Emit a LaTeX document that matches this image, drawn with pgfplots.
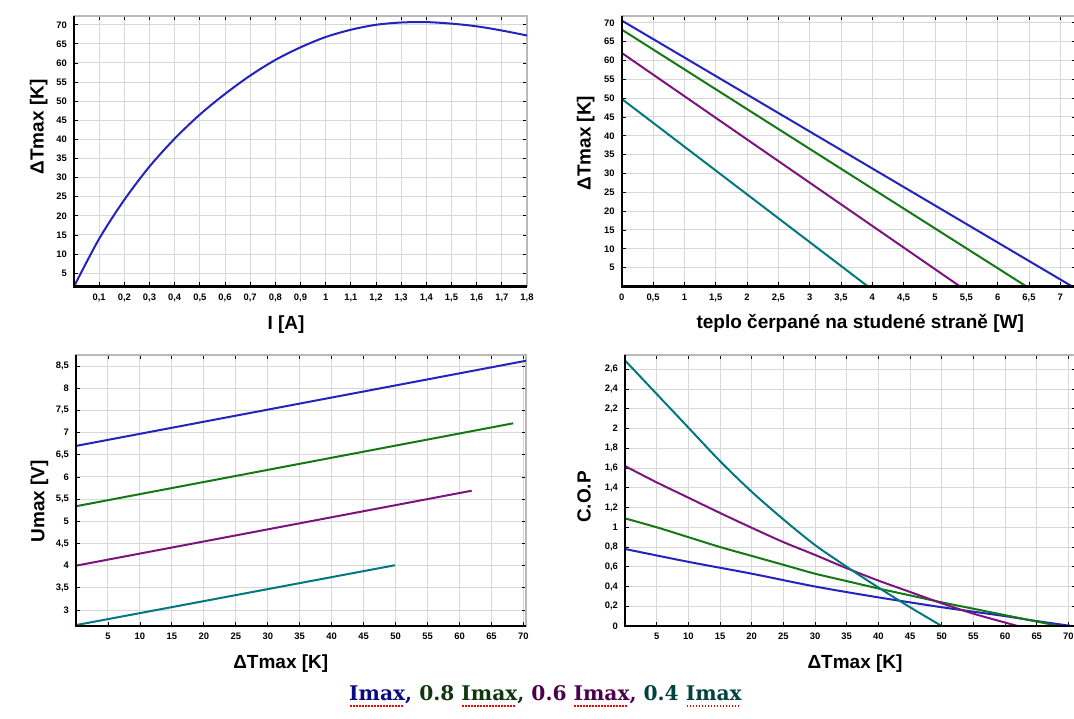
\documentclass[border=0pt]{standalone}
\usepackage{pgfplots}
\pgfplotsset{compat=1.18}
\usepackage{fontspec}
\setmainfont{Liberation Sans}
\newfontfamily\legfont{DejaVu Serif}

\definecolor{cA}{RGB}{35,35,190}
\definecolor{cB}{RGB}{20,120,20}
\definecolor{cC}{RGB}{125,20,125}
\definecolor{cD}{RGB}{0,120,125}
\definecolor{gridc}{RGB}{215,215,215}
\definecolor{legA}{RGB}{10,10,130}
\definecolor{legB}{RGB}{15,55,15}
\definecolor{legC}{RGB}{75,0,75}
\definecolor{legD}{RGB}{0,65,65}

\pgfplotsset{
  panel/.style={
    scale only axis, anchor=south west,
    grid=major, major grid style={gridc, line width=0.5pt},
    axis line style={gray!55, line width=0.7pt},
    tick style={black, line width=0.4pt}, major tick length=2pt,
    tick label style={font=\fontsize{4.7}{5}\selectfont\bfseries},
    /pgf/number format/use comma,
    /pgf/number format/fixed,
    /pgf/number format/precision=2,
    /pgf/number format/assume math mode=true,
    label style={font=\fontsize{9.5}{11}\selectfont\bfseries},
    clip mode=individual,
    every axis plot/.append style={line width=1pt, no marks},
    extra description/.code={
      \draw[black, line width=1.1pt] (rel axis cs:0,1) -- (rel axis cs:0,0) -- (rel axis cs:1,0);
    },
  },
}

% word with a red dotted underline (spell-check mark in the original)
\newcommand\im[2]{\setbox0\hbox{\textcolor{#1}{#2}}%
  \rlap{\color{red}\raisebox{-3pt}{\hbox to \wd0{\leaders\hbox to 1.5pt{\hss\rule{0.8pt}{0.8pt}\hss}\hfill}}}\box0}

\begin{document}
\begin{tikzpicture}
\useasboundingbox (0,0) rectangle (537pt,359pt);

% top left: dT max vs current
\begin{axis}[panel, at={(37pt,215.75pt)}, width=226.5pt, height=135.25pt,
  xmin=0, xmax=1.8, ymin=1.5, ymax=72.3,
  xtick={0.1,0.2,0.3,0.4,0.5,0.6,0.7,0.8,0.9,1,1.1,1.2,1.3,1.4,1.5,1.6,1.7,1.8},
  ytick={5,10,...,70},
  xlabel={I [A]}, ylabel={ΔTmax [K]},
  xlabel style={at={(axis description cs:0.468,-0.139)}, anchor=center},
  ylabel style={at={(axis description cs:-0.078,0.59)}, anchor=center},
]
\addplot[cA, smooth] coordinates {
  (0,1.5) (0.1,14.0) (0.2,24.2) (0.3,32.9) (0.4,40.2) (0.5,46.5) (0.6,51.9)
  (0.7,56.7) (0.8,60.8) (0.9,64.1) (1.0,66.8) (1.1,68.7) (1.2,70.0) (1.3,70.6)
  (1.4,70.7) (1.5,70.3) (1.6,69.6) (1.7,68.5) (1.8,67.2)
};
\end{axis}

% top right: dT vs heat pumped
\begin{axis}[panel, at={(310.85pt,215.75pt)}, width=227.15pt, height=135.25pt,
  xmin=0, xmax=7.25, ymin=0, ymax=71.8,
  xtick={0,0.5,...,7}, ytick={5,10,...,70},
  xlabel={teplo čerpané na studené straně [W]}, ylabel={ΔTmax [K]},
  xlabel style={at={(axis description cs:0.525,-0.135)}, anchor=center},
  ylabel style={at={(axis description cs:-0.079,0.53)}, anchor=center},
]
\addplot[cA] coordinates {(0,70.6) (7.19,0)};
\addplot[cB] coordinates {(0,68.2) (6.46,0)};
\addplot[cC] coordinates {(0,62.0) (5.40,0)};
\addplot[cD] coordinates {(0,49.8) (3.93,0)};
\end{axis}

% bottom left: Umax vs dT
\begin{axis}[panel, at={(38pt,46pt)}, width=225pt, height=135.5pt,
  xmin=0, xmax=70.4, ymin=2.64, ymax=8.75,
  xtick={5,10,...,70}, ytick={3,3.5,...,8.5},
  xlabel={ΔTmax [K]}, ylabel={Umax [V]},
  xlabel style={at={(axis description cs:0.455,-0.137)}, anchor=center},
  ylabel style={at={(axis description cs:-0.081,0.46)}, anchor=center},
]
\addplot[cA] coordinates {(0,6.70) (70.4,8.62)};
\addplot[cB] coordinates {(0,5.34) (68.4,7.21)};
\addplot[cC] coordinates {(0,4.00) (61.9,5.69)};
\addplot[cD] coordinates {(0,2.66) (49.9,4.01)};
\end{axis}

% bottom right: COP vs dT
\begin{axis}[panel, at={(312.5pt,46pt)}, width=225.5pt, height=135.5pt,
  xmin=0, xmax=71.2, ymin=0, ymax=2.745,
  xtick={5,10,...,70}, ytick={0,0.2,...,2.6},
  xlabel={ΔTmax [K]}, ylabel={C.O.P},
  xlabel style={at={(axis description cs:0.51,-0.137)}, anchor=center},
  ylabel style={at={(axis description cs:-0.091,0.476)}, anchor=center},
]
\addplot[cA, smooth] coordinates {
  (0,0.78) (10,0.65) (20,0.53) (30,0.40) (40,0.29) (50,0.19) (55,0.145)
  (60,0.10) (65,0.05) (70.5,0)
};
\addplot[cB, smooth] coordinates {
  (0,1.09) (5,1.00) (10,0.90) (15,0.80) (20,0.71) (25,0.62) (30,0.53)
  (35,0.455) (40,0.38) (45,0.31) (50,0.24) (55,0.175) (60,0.11) (65,0.045) (68.5,0)
};
\addplot[cC, smooth] coordinates {
  (0,1.62) (5,1.455) (10,1.30) (15,1.145) (20,0.995) (25,0.85) (30,0.72)
  (35,0.585) (40,0.46) (45,0.345) (50,0.23) (55,0.125) (60,0.035) (62,0)
};
\addplot[cD, smooth] coordinates {
  (0,2.69) (5,2.35) (10,2.01) (15,1.67) (20,1.36) (25,1.08) (30,0.82)
  (35,0.60) (40,0.39) (45,0.19) (50,0)
};
\end{axis}

\node[anchor=center, font=\legfont\bfseries\fontsize{10.1}{12}\selectfont]
  at (272.75pt,10.8pt)
  {\im{legA}{Imax}\textcolor{legA}{,} \textcolor{legB}{0.8} \im{legB}{Imax}\textcolor{legB}{,}
   \textcolor{legC}{0.6} \im{legC}{Imax}\textcolor{legC}{,} \textcolor{legD}{0.4} \im{legD}{Imax}};
\end{tikzpicture}
\end{document}
